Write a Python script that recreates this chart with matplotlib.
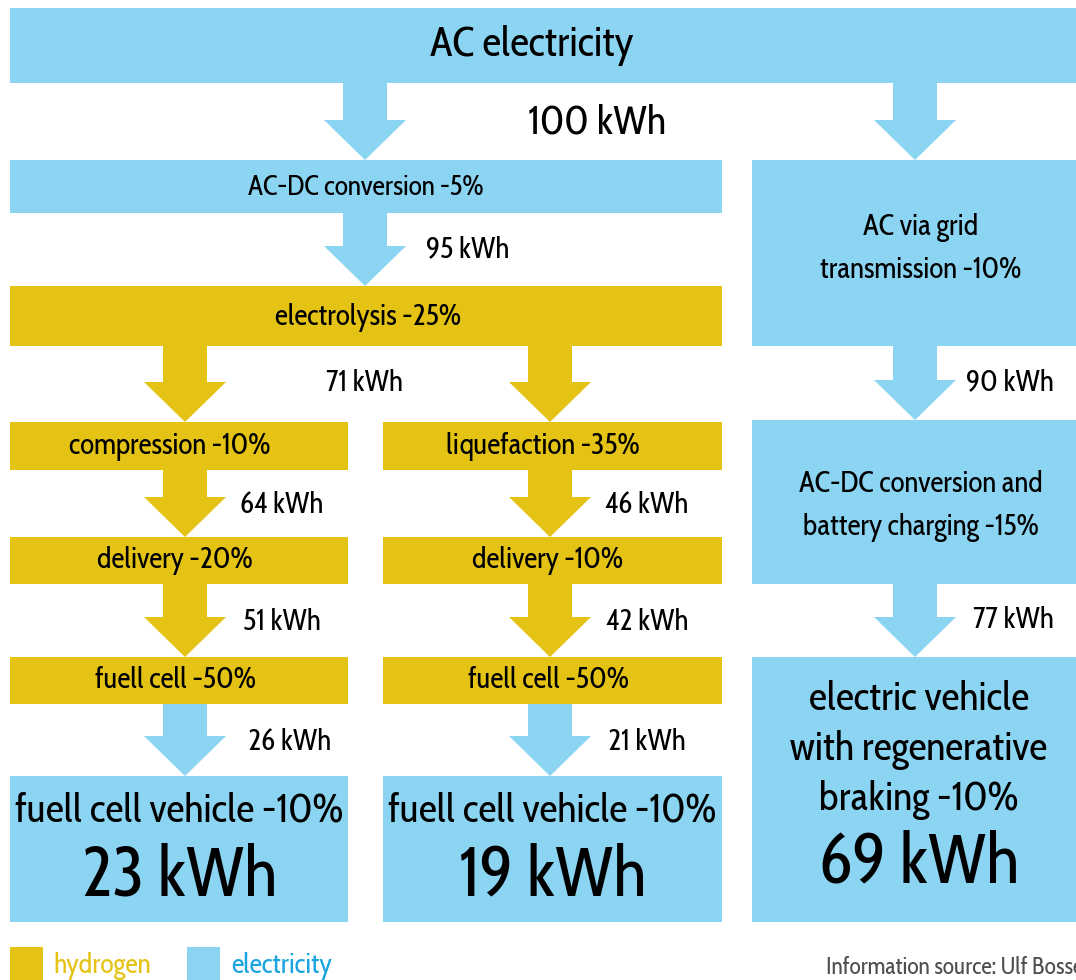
import matplotlib
matplotlib.use("Agg")
import matplotlib.pyplot as plt
from matplotlib.patches import Rectangle, Polygon

# colours
BLUE = "#8bd4f2"
GOLD = "#e5c314"
BLUE_TXT = "#1ba5e0"
GREY_TXT = "#4f4f4f"

# data
source_kwh = 100
ac_dc_kwh = 95
electrolysis_kwh = 71
compression_path_kwh = [64, 51, 26, 23]
liquefaction_path_kwh = [46, 42, 21, 19]
battery_path_kwh = [90, 77, 69]

compression_steps = ["compression -10%", "delivery -20%", "fuell cell -50%", "fuell cell vehicle -10%"]
liquefaction_steps = ["liquefaction -35%", "delivery -10%", "fuell cell -50%", "fuell cell vehicle -10%"]
battery_steps = ["AC via grid\ntransmission -10%",
                 "AC-DC conversion and\nbattery charging -15%",
                 "electric vehicle\nwith regenerative\nbraking -10%"]

FONT = ["Ubuntu Condensed", "Cabin Condensed", "DejaVu Sans"]

fig = plt.figure(figsize=(10.76, 9.8), dpi=100)
ax = fig.add_axes([0, 0, 1, 1])
ax.set_xlim(0, 1076)
ax.set_ylim(980, 0)
ax.axis("off")


def box(x0, x1, y0, y1, color):
    ax.add_patch(Rectangle((x0, y0), x1 - x0, y1 - y0, facecolor=color, edgecolor="none"))


def arrow(xc, y0, y1, color, shaft=44, head=82, head_len=40):
    ym = y1 - head_len
    pts = [(xc - shaft / 2, y0), (xc + shaft / 2, y0), (xc + shaft / 2, ym), (xc + head / 2, ym),
           (xc, y1), (xc - head / 2, ym), (xc - shaft / 2, ym)]
    ax.add_patch(Polygon(pts, closed=True, facecolor=color, edgecolor="none"))


def txt(x, y, s, size, color="black", ha="center", ls=1.2, **kw):
    ax.text(x, y, s, fontsize=size, color=color, ha=ha, va="center", family=FONT,
            linespacing=ls, **kw)


def kwh(v):
    return f"{v} kWh"


# top: AC electricity
box(10, 1076, 8, 83, BLUE)
txt(532, 46, "AC electricity", 30)
arrow(365, 83, 160, BLUE)
arrow(915, 83, 160, BLUE)
txt(597, 123, kwh(source_kwh), 29)

# AC-DC conversion
box(10, 722, 160, 213, BLUE)
txt(366, 188, "AC-DC conversion -5%", 20)
arrow(365, 213, 286, BLUE)
txt(468, 250, kwh(ac_dc_kwh), 21)

# electrolysis
box(10, 722, 286, 346, GOLD)
txt(368, 317, "electrolysis -25%", 21)
arrow(185, 346, 422, GOLD)
arrow(550, 346, 422, GOLD)
txt(364, 383, kwh(electrolysis_kwh), 21)

# hydrogen columns
rows = [(422, 470), (537, 584), (657, 704)]
for (cx0, cx1, steps, vals, xc, lx) in [
        (10, 348, compression_steps, compression_path_kwh, 175, 185),
        (383, 722, liquefaction_steps, liquefaction_path_kwh, 548, 550)]:
    for i, (y0, y1) in enumerate(rows):
        box(cx0, cx1, y0, y1, GOLD)
        txt(xc - 5 if i == 0 else xc, (y0 + y1) / 2, steps[i], 21)
        next_y = rows[i + 1][0] if i < 2 else 776
        col = GOLD if i < 2 else BLUE
        arrow(lx, y1, next_y, col)
        txt(lx + 97 + (8 if i == 2 and cx0 == 10 else 0), (y1 + next_y) / 2 + 2, kwh(vals[i]), 21)
    box(cx0, cx1, 776, 922, BLUE)
    txt((cx0 + cx1) / 2, 811, steps[3], 29)
    txt((cx0 + cx1) / 2, 877, kwh(vals[3]), 50)

# battery column
box(752, 1076, 160, 346, BLUE)
txt(921, 249, battery_steps[0], 21, ls=1.6)
arrow(915, 346, 420, BLUE)
txt(1010, 383, kwh(battery_path_kwh[0]), 21)
box(752, 1076, 420, 584, BLUE)
txt(921, 506, battery_steps[1], 21, ls=1.6)
arrow(915, 584, 657, BLUE)
txt(1013, 620, kwh(battery_path_kwh[1]), 21)
box(752, 1076, 657, 922, BLUE)
txt(919, 750, battery_steps[2], 29, ls=1.32)
txt(919, 864, kwh(battery_path_kwh[2]), 50)

# legend
box(10, 43, 947, 990, GOLD)
txt(53, 966, "hydrogen", 20, color=GOLD, ha="left")
box(187, 220, 947, 990, BLUE)
txt(231, 966, "electricity", 20, color=BLUE_TXT, ha="left")
txt(826, 968, "Information source: Ulf Bosse", 17, color=GREY_TXT, ha="left")

fig.savefig("out.png", dpi=100)
